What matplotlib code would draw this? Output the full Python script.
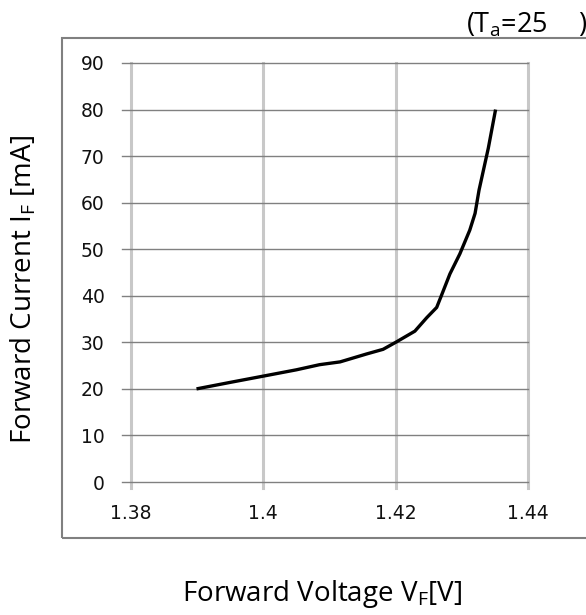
import numpy as np
import matplotlib.pyplot as plt
from matplotlib.patches import Rectangle

# forward voltage [V] vs forward current [mA]
vf = [1.3899, 1.3950, 1.4002, 1.4050, 1.4085, 1.4116, 1.4156, 1.4181, 1.4200,
      1.4229, 1.4247, 1.4262, 1.4269, 1.4282, 1.4297, 1.4312, 1.4320, 1.4326,
      1.4340, 1.4351]
i_f = [20.0, 21.4, 22.8, 24.1, 25.2, 25.8, 27.5, 28.5, 30.0,
       32.4, 35.3, 37.5, 40.0, 44.7, 49.0, 54.1, 57.7, 62.7,
       71.7, 80.0]

x_ticks = [1.38, 1.40, 1.42, 1.44]
x_labels = ['1.38', '1.4', '1.42', '1.44']
y_ticks = list(range(0, 100, 10))

W, H = 586, 615
fig = plt.figure(figsize=(W / 100, H / 100), dpi=100)

# outer chart border
fig.patches.append(Rectangle((62 / W, 1 - 538 / H), 600 / W, 500 / H,
                             transform=fig.transFigure, fill=False,
                             edgecolor='#808080', linewidth=1.5))

ax = fig.add_axes([131 / W, 1 - 482 / H, 397 / W, 419 / H])
ax.set_xlim(1.38, 1.44)
ax.set_ylim(0, 90)
for s in ax.spines.values():
    s.set_visible(False)

# grid
for x in x_ticks:
    ax.plot([x, x], [-1.2, 90], color='#c8c8c8', lw=2.2, clip_on=False, zorder=1)
for y in y_ticks:
    ax.plot([1.3786, 1.44], [y, y], color='#808080', lw=1.0, clip_on=False, zorder=2)

ax.plot(vf, i_f, color='black', lw=2.4, zorder=3, solid_capstyle='butt')

ax.set_xticks(x_ticks)
ax.set_xticklabels(x_labels)
ax.set_yticks(y_ticks)
ax.tick_params(length=0, labelsize=13.5)
ax.tick_params(axis='x', pad=16)
ax.tick_params(axis='y', pad=19)
for t in ax.get_xticklabels() + ax.get_yticklabels():
    t.set_fontfamily('DejaVu Sans')
    t.set_color('#111111')

fig.text(322 / W, 1 - 594 / H, r'Forward Voltage V$_\mathregular{F}$[V]',
         ha='center', va='center', fontsize=20, family='Open Sans')
fig.text(23 / W, 1 - 290 / H, r'Forward Current I$_\mathregular{F}$ [mA]',
         ha='center', va='center', rotation=90, fontsize=20, family='Open Sans')
fig.text(466 / W, 1 - 25 / H, r'(T$_\mathregular{a}$=25',
         ha='left', va='center', fontsize=19.5, family='Open Sans')
fig.text(578 / W, 1 - 25 / H, ')',
         ha='left', va='center', fontsize=19.5, family='Open Sans')

fig.savefig('out.png', dpi=100)
